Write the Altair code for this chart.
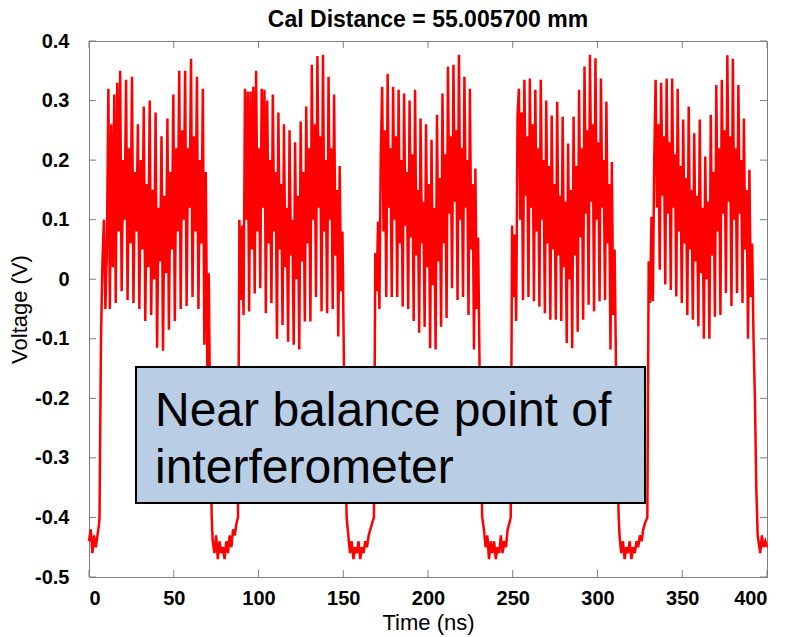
import altair as alt
import numpy as np
import pandas as pd

# ---------------- data ----------------
X_TICKS = [0, 50, 100, 150, 200, 250, 300, 350, 400]
Y_TICKS = [-0.5, -0.4, -0.3, -0.2, -0.1, 0.0, 0.1, 0.2, 0.3, 0.4]

# low (dark) segments, sampled every 1 ns from their start time
LOW_START = [0, 73, 153, 233, 313, 395]
L0 = [-0.44, -0.42, -0.46, -0.43, -0.45, -0.43, -0.41]
L1 = [-0.44, -0.46, -0.43, -0.47, -0.44, -0.46, -0.45, -0.47, -0.44, -0.46,
      -0.43, -0.45, -0.42, -0.43, -0.41]
L2 = [-0.43, -0.46, -0.44, -0.47, -0.45, -0.46, -0.44, -0.47, -0.45, -0.46,
      -0.44, -0.45, -0.43, -0.42, -0.41]
L3 = [-0.42, -0.45, -0.43, -0.47, -0.44, -0.46, -0.44, -0.47, -0.45, -0.46,
      -0.43, -0.46, -0.44, -0.45, -0.42, -0.41]
L4 = [-0.43, -0.46, -0.44, -0.47, -0.45, -0.46, -0.44, -0.47, -0.45, -0.46,
      -0.44, -0.45, -0.43, -0.44, -0.42, -0.41]
L5 = [-0.44, -0.46, -0.43, -0.45, -0.44, -0.45]
LOWS = [L0, L1, L2, L3, L4, L5]

# fringe bursts: evenly sampled between start and end time
BURST_START = [6.2, 87.9, 168.1, 248.8, 329.4]
BURST_END = [72.4, 152.0, 232.0, 312.5, 394.5]
B1 = [-0.40, -0.10, 0.03, 0.10, -0.05, 0.05,
      0.32, -0.05, 0.26, 0.02,
      0.31, -0.04, 0.33, 0.08,
      0.35, -0.02, 0.20, 0.10,
      0.335, -0.035, 0.22, 0.06,
      0.34, -0.04, 0.18, 0.08,
      0.26, -0.05, 0.20, 0.05,
      0.29, -0.07, 0.16, 0.02,
      0.30, -0.06, 0.15, 0.00,
      0.28, -0.115, 0.12, 0.03,
      0.24, -0.12, 0.14, 0.01,
      0.27, -0.085, 0.18, 0.05,
      0.31, -0.07, 0.22, 0.08,
      0.35, -0.05, 0.25, 0.10,
      0.35, -0.045, 0.22, 0.12,
      0.37, -0.03, 0.24, 0.08,
      0.34, -0.05, 0.20, 0.06,
      0.32, -0.11, 0.18, -0.15,
      0.01, -0.25, -0.40]
B2 = [-0.40, 0.10, -0.035, 0.09, -0.06,
      0.32, 0.10, 0.315, -0.054,
      0.315, 0.05, 0.323, -0.024,
      0.35, 0.08, 0.22, -0.015,
      0.32, 0.12, 0.318, -0.057,
      0.30, 0.06, 0.20, -0.04,
      0.31, 0.08, 0.18, -0.10,
      0.28, 0.05, 0.16, -0.077,
      0.26, 0.02, 0.12, -0.105,
      0.25, 0.04, 0.10, -0.11,
      0.23, 0.00, 0.14, -0.118,
      0.265, 0.03, 0.18, -0.071,
      0.29, 0.06, 0.22, -0.071,
      0.36, 0.10, 0.26, -0.03,
      0.375, 0.12, 0.24, -0.054,
      0.377, 0.08, 0.20, -0.057,
      0.34, 0.10, 0.22, -0.05,
      0.31, 0.04, 0.15, -0.096,
      0.19, -0.02, 0.08, -0.13,
      -0.28, -0.40]
B3 = [-0.40, 0.044, -0.02, 0.097, -0.05, 0.21,
      0.323, 0.08, 0.25, -0.03,
      0.345, 0.12, 0.22, -0.03,
      0.323, 0.10, 0.24, -0.03,
      0.318, 0.06, 0.20, -0.046,
      0.312, 0.09, 0.18, -0.05,
      0.30, 0.07, 0.21, -0.07,
      0.318, 0.04, 0.15, -0.09,
      0.27, 0.06, 0.13, -0.08,
      0.26, 0.02, 0.16, -0.116,
      0.234, -0.01, 0.12, -0.118,
      0.276, 0.03, 0.17, -0.08,
      0.312, 0.06, 0.21, -0.065,
      0.357, 0.11, 0.24, -0.015,
      0.36, 0.13, 0.25, -0.035,
      0.377, 0.10, 0.22, -0.03,
      0.34, 0.12, 0.20, -0.06,
      0.32, 0.05, 0.16, -0.118,
      0.186, -0.05, 0.07, -0.14,
      -0.30, -0.40]
B4 = [-0.40, 0.09, -0.03, 0.075, -0.07, 0.276,
      0.32, 0.10, 0.28, -0.035,
      0.335, 0.14, 0.24, -0.03,
      0.337, 0.12, 0.26, -0.037,
      0.318, 0.08, 0.22, -0.046,
      0.335, 0.10, 0.20, -0.057,
      0.30, 0.06, 0.19, -0.068,
      0.275, 0.05, 0.16, -0.068,
      0.298, 0.04, 0.14, -0.07,
      0.273, 0.02, 0.13, -0.107,
      0.228, 0.00, 0.15, -0.116,
      0.273, 0.04, 0.19, -0.088,
      0.318, 0.07, 0.22, -0.068,
      0.357, 0.11, 0.25, -0.043,
      0.377, 0.13, 0.26, -0.054,
      0.371, 0.10, 0.23, -0.037,
      0.337, 0.12, 0.20, -0.035,
      0.298, 0.06, 0.16, -0.118,
      0.197, -0.06, 0.05, -0.14,
      -0.30, -0.40]
B5 = [-0.40, 0.03, -0.04, 0.105, -0.037, 0.20,
      0.335, 0.12, 0.26, 0.016,
      0.33, 0.14, 0.24, -0.009,
      0.337, 0.11, 0.23, -0.018,
      0.337, 0.12, 0.21, -0.029,
      0.32, 0.08, 0.19, -0.04,
      0.268, 0.06, 0.17, -0.06,
      0.29, 0.05, 0.15, -0.068,
      0.245, 0.03, 0.14, -0.079,
      0.268, 0.01, 0.12, -0.10,
      0.206, 0.00, 0.13, -0.10,
      0.276, 0.04, 0.18, -0.063,
      0.326, 0.08, 0.22, -0.06,
      0.335, 0.11, 0.25, -0.023,
      0.376, 0.13, 0.24, -0.045,
      0.37, 0.10, 0.22, -0.023,
      0.326, 0.11, 0.20, -0.04,
      0.27, 0.05, 0.15, -0.10,
      0.184, -0.03, 0.06, -0.10,
      -0.20, -0.35, -0.43]
BURSTS = [B1, B2, B3, B4, B5]

TITLE = "Cal Distance = 55.005700 mm"
X_TITLE = "Time (ns)"
Y_TITLE = "Voltage (V)"
NOTE_1 = "Near balance point of"
NOTE_2 = "interferometer"

# ---------------- build table ----------------
t_all, v_all = [], []
for s, vals in zip(LOW_START, LOWS):
    t_all += [s + i for i in range(len(vals))]
    v_all += vals
for s, e, vals in zip(BURST_START, BURST_END, BURSTS):
    t_all += list(np.linspace(s, e, len(vals)))
    v_all += vals
df = pd.DataFrame({"t": t_all, "v": v_all}).sort_values("t").reset_index(drop=True)

xt = pd.DataFrame({"t": X_TICKS})
yt = pd.DataFrame({"v": Y_TICKS})
one = pd.DataFrame({"a": [0]})

W, H = 678, 536
AX = "#7f7f7f"
SANS = "Liberation Sans, Arial, Helvetica, sans-serif"

xs = alt.Scale(domain=[0, 400], nice=False, zero=False)
ys = alt.Scale(domain=[-0.5, 0.4], nice=False, zero=False)
x_axis = alt.Axis(values=X_TICKS, format="d", tickSize=0, labelPadding=11,
                  titlePadding=4, grid=False)
y_axis = alt.Axis(values=Y_TICKS, tickSize=0, labelPadding=20,
                  labelExpr="datum.value == 0 ? '0' : toString(round(datum.value*10)/10)",
                  titlePadding=3, grid=False)
X = alt.X("t:Q", scale=xs, title=X_TITLE, axis=x_axis)
Y = alt.Y("v:Q", scale=ys, title=Y_TITLE, axis=y_axis)

line = alt.Chart(df).mark_line(color="#ff0000", strokeWidth=2.5).encode(x=X, y=Y)

tick_b = alt.Chart(xt).mark_rule(color=AX, strokeWidth=1).encode(
    x=X, y=alt.value(H), y2=alt.value(H - 7))
tick_t = alt.Chart(xt).mark_rule(color=AX, strokeWidth=1).encode(
    x=X, y=alt.value(0), y2=alt.value(7))
tick_l = alt.Chart(yt).mark_rule(color=AX, strokeWidth=1).encode(
    y=Y, x=alt.value(0), x2=alt.value(7))
tick_r = alt.Chart(yt).mark_rule(color=AX, strokeWidth=1).encode(
    y=Y, x=alt.value(W - 7), x2=alt.value(W))

box = alt.Chart(one).mark_rect(fill="#b9cde5", stroke="#000000", strokeWidth=2).encode(
    x=alt.value(47), x2=alt.value(556), y=alt.value(326), y2=alt.value(462))
txt1 = alt.Chart(one).mark_text(align="left", baseline="alphabetic", font=SANS,
                                fontSize=48, color="#000000").encode(
    x=alt.value(66), y=alt.value(385), text=alt.value(NOTE_1))
txt2 = alt.Chart(one).mark_text(align="left", baseline="alphabetic", font=SANS,
                                fontSize=48, color="#000000").encode(
    x=alt.value(66), y=alt.value(442), text=alt.value(NOTE_2))
title = alt.Chart(one).mark_text(align="center", baseline="alphabetic", font=SANS,
                                 fontSize=23, fontWeight="bold", color="#000000").encode(
    x=alt.value(W / 2), y=alt.value(-14), text=alt.value(TITLE))

chart = alt.layer(line, tick_b, tick_t, tick_l, tick_r, box, txt1, txt2, title).properties(
    width=W, height=H,
    background="#ffffff",
    autosize=alt.AutoSizeParams(type="none"),
    padding={"left": 89, "top": 41, "right": 19, "bottom": 60},
).configure_view(stroke=AX, strokeWidth=1).configure_axis(
    domainColor=AX, domainWidth=1, labelFont=SANS, labelFontSize=20,
    labelFontWeight="bold", labelColor="#000000", titleFont=SANS,
    titleFontSize=22, titleFontWeight="normal", titleColor="#000000",
)

chart.save("out.html", embed_options={"renderer": "svg", "actions": False})
